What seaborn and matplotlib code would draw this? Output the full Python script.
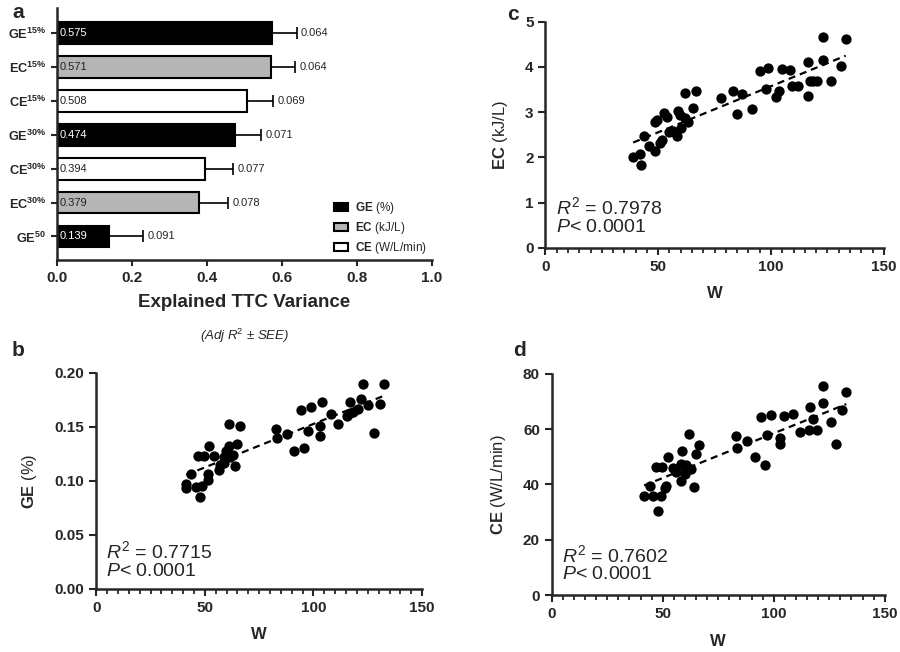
import seaborn as sns
import pandas as pd
import matplotlib.pyplot as plt
import numpy as np
from matplotlib.ticker import MultipleLocator, FormatStrFormatter

# Panel a: explained TTC variance
bar_names = ['GE$^{\\mathbf{15\\%}}$', 'EC$^{\\mathbf{15\\%}}$', 'CE$^{\\mathbf{15\\%}}$',
             'GE$^{\\mathbf{30\\%}}$', 'CE$^{\\mathbf{30\\%}}$', 'EC$^{\\mathbf{30\\%}}$',
             'GE$^{\\mathbf{50}}$']
bar_kind = ['GE', 'EC', 'CE', 'GE', 'CE', 'EC', 'GE']
bar_r2 = [0.575, 0.571, 0.508, 0.474, 0.394, 0.379, 0.139]
bar_see = [0.064, 0.064, 0.069, 0.071, 0.077, 0.078, 0.091]

# Panel b: GE vs W
w_ge = [41.4, 41.4, 43.7, 46.0, 47.9, 48.6, 46.6, 49.4, 51.2, 51.2, 52.1, 54.3,
        56.3, 57.1, 58.6, 59.8, 60.9, 58.9, 61.7, 62.9, 61.3, 65.0, 64.0, 66.3,
        82.8, 83.4, 88.0, 91.1, 95.4, 94.2, 98.8, 97.4, 102.8, 102.8, 103.8,
        108.1, 111.5, 115.3, 116.6, 116.9, 118.4, 120.7, 121.8, 123.0, 125.3,
        127.9, 130.7, 132.5]
ge = [0.097, 0.093, 0.106, 0.094, 0.085, 0.095, 0.123, 0.123, 0.106, 0.101,
      0.132, 0.123, 0.110, 0.115, 0.122, 0.128, 0.132, 0.117, 0.1225, 0.124,
      0.153, 0.134, 0.114, 0.151, 0.148, 0.140, 0.1435, 0.128, 0.130, 0.166,
      0.168, 0.146, 0.151, 0.142, 0.173, 0.162, 0.153, 0.160, 0.173, 0.163,
      0.164, 0.167, 0.176, 0.190, 0.170, 0.144, 0.171, 0.190]

# Panel c: EC vs W
w_ec = [38.9, 41.9, 42.5, 43.6, 45.9, 48.8, 48.4, 49.6, 51.0, 51.8, 52.5, 54.0,
        54.7, 56.5, 58.4, 58.7, 59.5, 59.9, 61.7, 61.7, 63.2, 65.4, 66.6, 77.7,
        83.3, 84.8, 87.3, 91.6, 95.0, 97.9, 98.8, 102.1, 103.5, 104.7, 108.4,
        109.2, 112.0, 116.6, 116.6, 117.3, 118.7, 120.2, 123.2, 123.2, 126.5,
        130.9, 133.1]
ec = [2.01, 2.08, 1.84, 2.46, 2.24, 2.13, 2.79, 2.82, 2.32, 2.39, 2.98, 2.89,
      2.55, 2.57, 2.48, 3.02, 2.94, 2.65, 2.87, 3.42, 2.77, 3.08, 3.46, 3.31,
      3.46, 2.96, 3.40, 3.07, 3.90, 3.51, 3.98, 3.33, 3.47, 3.94, 3.92, 3.58,
      3.58, 4.11, 3.36, 3.69, 3.69, 3.69, 4.65, 4.16, 3.68, 4.01, 4.62]

# Panel d: CE vs W
w_ce = [41.6, 45.6, 49.1, 47.9, 44.1, 51.2, 51.6, 47.2, 49.7, 52.4, 54.6, 56.2,
        58.1, 58.4, 58.7, 60.7, 59.9, 62.6, 61.7, 64.1, 65.2, 66.2, 83.2, 83.6,
        88.1, 91.4, 95.9, 94.4, 99.0, 97.1, 102.7, 102.7, 104.6, 108.7, 111.7,
        115.8, 116.5, 117.7, 119.7, 122.2, 122.2, 125.7, 128.2, 130.8, 132.7]
ce = [35.8, 35.8, 35.8, 30.3, 39.6, 38.7, 39.6, 46.2, 46.2, 49.8, 45.9, 44.4,
      41.4, 47.5, 51.9, 47.1, 43.9, 45.7, 58.3, 39.0, 51.1, 54.3, 57.4, 53.1,
      55.6, 49.8, 47.1, 64.5, 64.9, 57.7, 56.7, 54.7, 64.6, 65.5, 58.9, 59.5,
      67.9, 63.7, 59.8, 75.7, 69.4, 62.7, 54.7, 67.0, 73.5]

sns.set_style('ticks')
plt.rcParams['font.family'] = ['Liberation Sans', 'DejaVu Sans']
plt.rcParams['mathtext.fontset'] = 'custom'
plt.rcParams['mathtext.rm'] = 'Liberation Sans'
plt.rcParams['mathtext.it'] = 'Liberation Sans:italic'
plt.rcParams['mathtext.bf'] = 'Liberation Sans:bold'

fig = plt.figure(figsize=(9, 6.52), dpi=100)

# ---------- panel a ----------
ax = fig.add_axes([0.063, 0.601, 0.417, 0.387])
df = pd.DataFrame({'name': bar_names, 'kind': bar_kind, 'r2': bar_r2, 'see': bar_see})
pal = {'GE': 'black', 'EC': '#b5b5b5', 'CE': 'white'}
sns.barplot(data=df, x='r2', y='name', hue='kind', hue_order=['GE', 'EC', 'CE'],
            palette=pal, dodge=False, width=0.64, edgecolor='black', linewidth=1.5,
            orient='h', ax=ax)
pos = np.arange(len(bar_r2))
ax.errorbar(df['r2'], pos, xerr=[np.zeros(len(pos)), df['see']], fmt='none',
            ecolor='black', elinewidth=1.2, capsize=4, capthick=1.2)
for i, (v, e, k) in enumerate(zip(bar_r2, bar_see, bar_kind)):
    ax.text(0.007, i, f'{v:.3f}', va='center', ha='left', fontsize=8,
            color='white' if k == 'GE' else '#222222')
    ax.text(v + e + 0.011, i, f'{e:.3f}', va='center', ha='left', fontsize=8)
ax.set_xlim(0, 1.0)
ax.set_ylim(6.7, -0.75)
ax.set_xticks(np.arange(0, 1.01, 0.2))
ax.xaxis.set_major_formatter(FormatStrFormatter('%.1f'))
ax.set_xlabel('')
ax.set_ylabel('')
for lab in ax.get_yticklabels():
    lab.set_fontweight('bold')
    lab.set_fontsize(9.2)
for lab in ax.get_xticklabels():
    lab.set_fontweight('bold')
    lab.set_fontsize(11)
ax.tick_params(direction='out', width=1.5, length=4)
sns.despine(ax=ax)
for s in ['left', 'bottom']:
    ax.spines[s].set_linewidth(1.8)
h, _ = ax.get_legend_handles_labels()
ax.legend(h, [r'$\mathbf{GE}$ (%)', r'$\mathbf{EC}$ (kJ/L)', r'$\mathbf{CE}$ (W/L/min)'],
          loc='upper left', bbox_to_anchor=(0.71, 0.28), frameon=False,
          fontsize=8.5, handlelength=1.2, handleheight=0.7, labelspacing=0.35,
          handletextpad=0.6)
ax.text(0.5, -0.167, 'Explained TTC Variance', transform=ax.transAxes,
        ha='center', va='center', fontsize=13.5, fontweight='bold')
ax.text(0.5, -0.30, '(Adj R$^{2}$ ± SEE)', transform=ax.transAxes,
        ha='center', va='center', fontsize=9.5, style='italic')


# ---------- scatter panels ----------
def scatter_panel(rect, x, y, ylim, ystep, yfmt, ylabel, r2txt, ypos):
    a = fig.add_axes(rect)
    sns.regplot(x=x, y=y, ci=None, ax=a,
                scatter_kws=dict(s=55, color='black', linewidths=0, alpha=1),
                line_kws=dict(color='black', lw=1.6, ls=(0, (3.2, 2.2))))
    a.set_xlim(0, 150)
    a.set_ylim(*ylim)
    a.xaxis.set_major_locator(MultipleLocator(50))
    a.xaxis.set_minor_locator(MultipleLocator(5))
    a.yaxis.set_major_locator(MultipleLocator(ystep))
    a.yaxis.set_major_formatter(FormatStrFormatter(yfmt))
    a.tick_params(which='major', direction='out', width=1.5, length=5, labelsize=11)
    a.tick_params(which='minor', direction='out', width=1.3, length=3.5)
    for lab in a.get_xticklabels() + a.get_yticklabels():
        lab.set_fontweight('bold')
    a.set_xlabel('W', fontsize=12, fontweight='bold', labelpad=9)
    a.set_ylabel(ylabel, fontsize=12, labelpad=11)
    sns.despine(ax=a)
    for s in ['left', 'bottom']:
        a.spines[s].set_linewidth(1.8)
    a.text(0.03, ypos, r'$\mathit{R}^{\mathrm{2}}$ = ' + r2txt + '\n' + r'$\mathit{P}$< 0.0001',
           transform=a.transAxes, fontsize=14, va='baseline', linespacing=1.05)
    return a


ax_b = scatter_panel([0.107, 0.097, 0.362, 0.331], w_ge, ge, (0, 0.2), 0.05, '%.2f',
                     r'$\mathbf{GE}$ (%)', '0.7715', 0.058)
ax_c = scatter_panel([0.606, 0.620, 0.376, 0.347], w_ec, ec, (0, 5), 1, '%d',
                     r'$\mathbf{EC}$ (kJ/L)', '0.7978', 0.069)
ax_d = scatter_panel([0.613, 0.087, 0.370, 0.340], w_ce, ce, (0, 80), 20, '%d',
                     r'$\mathbf{CE}$ (W/L/min)', '0.7602', 0.072)

for lab, (x, y) in zip('abcd', [(18, 12), (18, 350), (513, 15), (519, 350)]):
    fig.text(x / 900, 1 - y / 652, lab, fontsize=15, fontweight='bold',
             ha='center', va='center')

fig.savefig('out.png', dpi=100)
